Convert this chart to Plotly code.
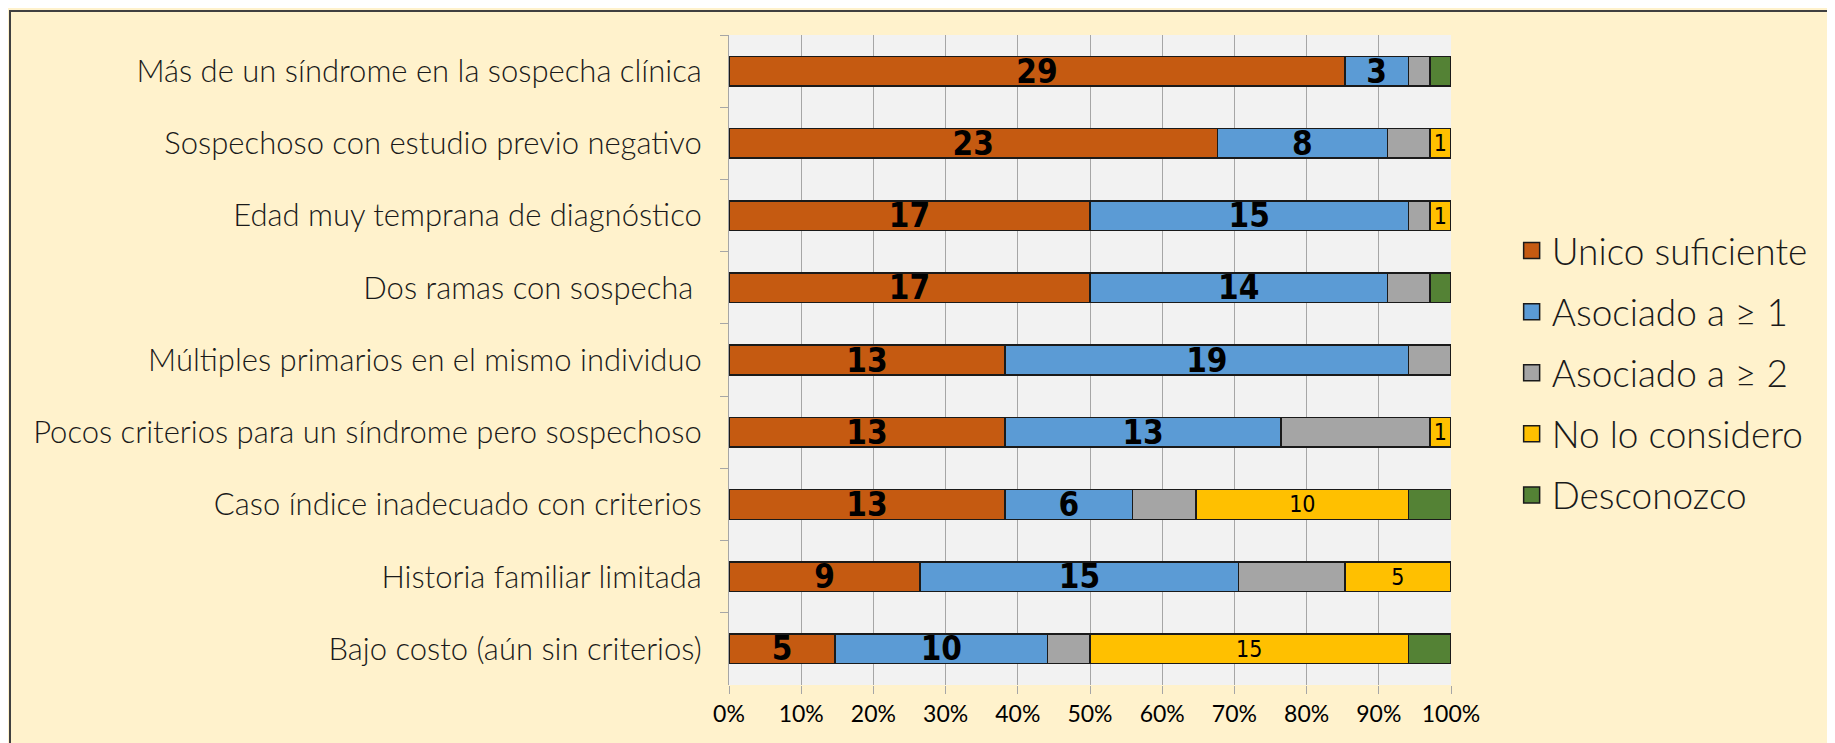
import plotly.graph_objects as go

categorias = [
    "Más de un síndrome en la sospecha clínica",
    "Sospechoso con estudio previo negativo",
    "Edad muy temprana de diagnóstico",
    "Dos ramas con sospecha ",
    "Múltiples primarios en el mismo individuo",
    "Pocos criterios para un síndrome pero sospechoso",
    "Caso índice inadecuado con criterios",
    "Historia familiar limitada",
    "Bajo costo (aún sin criterios)",
]

unico_suficiente = [29, 23, 17, 17, 13, 13, 13, 9, 5]
asociado_1 = [3, 8, 15, 14, 19, 13, 6, 15, 10]
asociado_2 = [1, 2, 1, 2, 2, 7, 3, 5, 2]
no_lo_considero = [0, 1, 1, 0, 0, 1, 10, 5, 15]
desconozco = [1, 0, 0, 1, 0, 0, 2, 0, 2]

pct_ticks = list(range(0, 101, 10))

series = [
    ("Unico suficiente", unico_suficiente, "#C55A11", "bold"),
    ("Asociado a ≥ 1", asociado_1, "#5B9BD5", "bold"),
    ("Asociado a ≥ 2", asociado_2, "#A5A5A5", None),
    ("No lo considero", no_lo_considero, "#FFC000", "normal"),
    ("Desconozco", desconozco, "#548235", None),
]

W, H = 1835, 743
L, R, T, B = 721, 392, 27, 66
num_font = "DejaVu Sans Condensed, Liberation Sans Narrow, Liberation Sans, sans-serif"
light_font = "Lato Light, Lato, sans-serif"

fig = go.Figure()
for name, vals, color, label in series:
    if label is None:
        text = ["" for _ in vals]
    else:
        text = [str(v) if v else "" for v in vals]
    big = label == "bold"
    fig.add_trace(go.Bar(
        y=categorias, x=vals, name=name, orientation="h",
        marker=dict(color=color, line=dict(color="#1a1a1a", width=1.5)),
        text=text, textposition="inside", insidetextanchor="middle",
        textangle=0, constraintext="none",
        textfont=dict(family=num_font, size=33 if big else 23, color="black",
                      weight="bold" if big else "normal"),
        legendgroup=name, showlegend=False,
    ))

# legend-only entries so the swatches can be larger than the bar default
for name, vals, color, label in series:
    fig.add_trace(go.Scatter(
        x=[None], y=[None], mode="markers", name=name, legendgroup=name,
        marker=dict(symbol="square", size=20, color=color,
                    line=dict(color="#1a1a1a", width=1.5)),
        hoverinfo="skip",
    ))

fig.update_layout(
    width=W, height=H,
    barmode="stack", barnorm="percent", bargap=0.59,
    paper_bgcolor="#FFF2CC", plot_bgcolor="#F2F2F2",
    margin=dict(l=L, r=R, t=T, b=B, autoexpand=False),
    font=dict(family="Lato", color="#1a1a1a"),
    showlegend=True,
    legend=dict(
        x=1.084, xanchor="left", y=0.48, yanchor="middle",
        traceorder="grouped", tracegroupgap=10, itemsizing="trace",
        font=dict(family=light_font, size=37, weight=300, color="#1a1a1a"),
        bgcolor="rgba(0,0,0,0)",
    ),
)

fig.update_xaxes(
    range=[0, 100], tickvals=pct_ticks, ticktext=[f"{v}%" for v in pct_ticks],
    showgrid=True, gridcolor="#A6A6A6", gridwidth=1,
    ticks="outside", ticklen=8, tickcolor="#A6A6A6",
    showline=False, zeroline=False,
    tickfont=dict(family="Lato", size=23, color="black"),
)
fig.update_yaxes(
    autorange="reversed", showgrid=False,
    showline=True, linecolor="#A6A6A6", linewidth=1,
    ticks="outside", tickson="boundaries", ticklen=8, tickcolor="#A6A6A6",
    tickfont=dict(family=light_font, size=31, weight=300, color="#1a1a1a"),
    ticklabelstandoff=20,
)

pw, ph = W - L - R, H - T - B
fig.add_shape(
    type="rect", xref="paper", yref="paper",
    x0=(2 - L) / pw, x1=(W - 3 - L) / pw,
    y0=-(H - 3 - T - ph) / ph, y1=1 + (T - 3) / ph,
    line=dict(color="#404040", width=2), fillcolor="rgba(0,0,0,0)", layer="above",
)

fig.write_html("out.html")
